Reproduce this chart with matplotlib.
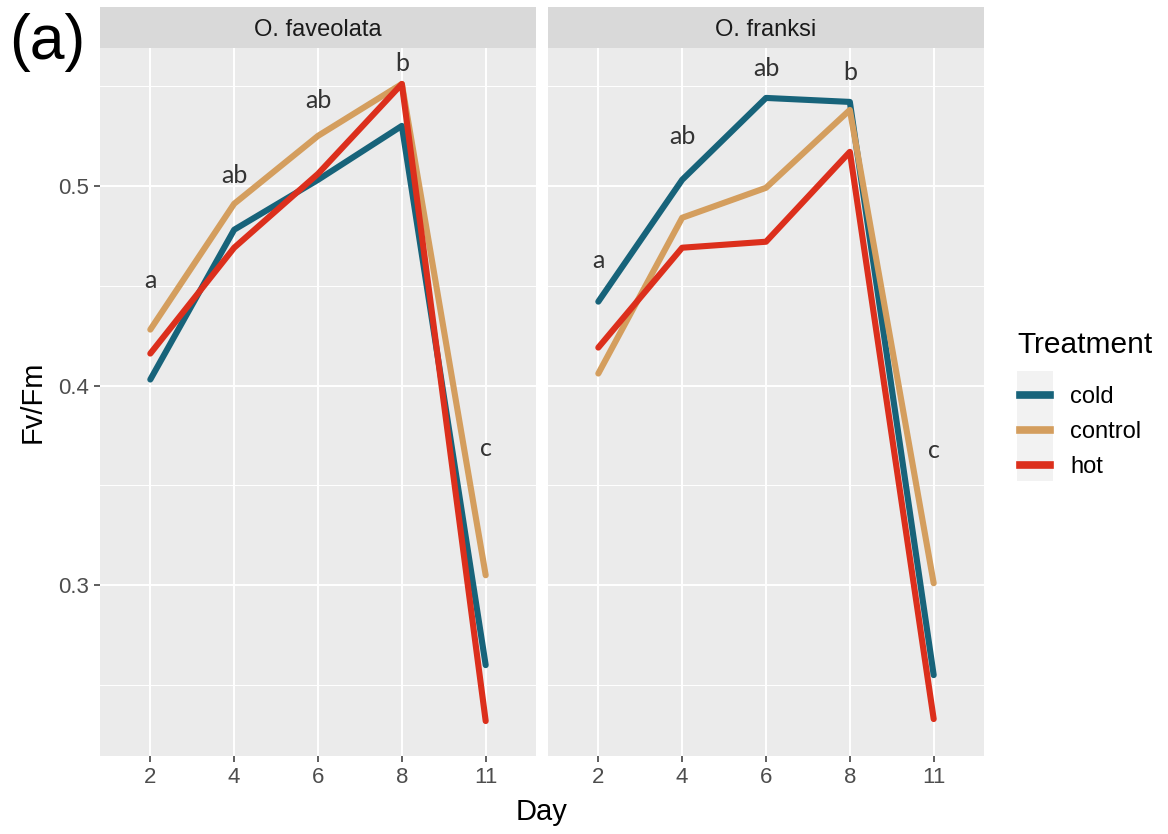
import numpy as np
import matplotlib
matplotlib.use("Agg")
import matplotlib.pyplot as plt
from matplotlib.lines import Line2D
from matplotlib.patches import Rectangle

plt.rcParams['font.family'] = ['Liberation Sans', 'DejaVu Sans']

days = ['2', '4', '6', '8', '11']
treatments = ['cold', 'control', 'hot']
colors = {'cold': '#17637A', 'control': '#D49E5E', 'hot': '#DC2F1C'}
species = ['O. faveolata', 'O. franksi']

# Fv/Fm means
fav_cold = [0.403, 0.478, 0.503, 0.530, 0.260]
fav_control = [0.428, 0.491, 0.525, 0.551, 0.305]
fav_hot = [0.416, 0.469, 0.506, 0.551, 0.232]
fra_cold = [0.442, 0.503, 0.544, 0.542, 0.255]
fra_control = [0.406, 0.484, 0.499, 0.538, 0.301]
fra_hot = [0.419, 0.469, 0.472, 0.517, 0.233]

# significance letters and their heights
fav_letters = ['a', 'ab', 'ab', 'b', 'c']
fav_letter_y = [0.4525, 0.505, 0.5425, 0.561, 0.3685]
fra_letters = ['a', 'ab', 'ab', 'b', 'c']
fra_letter_y = [0.4625, 0.5245, 0.5585, 0.5565, 0.3675]

data = {
    'O. faveolata': {'cold': fav_cold, 'control': fav_control, 'hot': fav_hot},
    'O. franksi': {'cold': fra_cold, 'control': fra_control, 'hot': fra_hot},
}
letters = {'O. faveolata': (fav_letters, fav_letter_y),
           'O. franksi': (fra_letters, fra_letter_y)}

W, H = 1168, 834
fig = plt.figure(figsize=(W / 100, H / 100), dpi=100)

panel_x = [100, 548]
panel_w = 436
top, bottom = 48, 756
strip_top = 7

x = np.arange(len(days))
for i, sp in enumerate(species):
    left = panel_x[i]
    ax = fig.add_axes([left / W, 1 - bottom / H, panel_w / W, (bottom - top) / H])
    ax.set_facecolor('#EBEBEB')
    for s in ax.spines.values():
        s.set_visible(False)
    ax.set_xlim(-0.6, len(days) - 0.4)
    ax.set_ylim(0.2145, 0.569)
    ax.set_yticks([0.3, 0.4, 0.5])
    ax.set_yticks([0.25, 0.35, 0.45, 0.55], minor=True)
    ax.set_xticks(x)
    ax.set_xticklabels(days)
    ax.grid(which='major', color='white', linewidth=1.4)
    ax.grid(which='minor', axis='y', color='white', linewidth=0.7)
    ax.set_axisbelow(True)
    ax.tick_params(axis='both', which='major', length=4, width=1.1, color='#333333',
                   labelcolor='#4D4D4D', labelsize=16, pad=4)
    ax.tick_params(axis='y', which='minor', length=0)
    if i == 0:
        ax.set_yticklabels(['0.3', '0.4', '0.5'])
    else:
        ax.tick_params(axis='y', which='both', length=0, labelleft=False)

    for t in treatments:
        ax.plot(x, data[sp][t], color=colors[t], linewidth=4.4,
                solid_capstyle='round', solid_joinstyle='round')

    labs, ly = letters[sp]
    for xi, (lab, yv) in enumerate(zip(labs, ly)):
        ax.text(xi, yv, lab, ha='center', va='center', fontsize=18,
                color='#333333', family=['Lato', 'DejaVu Sans'])

    sax = fig.add_axes([left / W, 1 - top / H, panel_w / W, (top - strip_top) / H])
    sax.set_facecolor('#D9D9D9')
    sax.set_xticks([])
    sax.set_yticks([])
    for s in sax.spines.values():
        s.set_visible(False)
    sax.text(0.5, 0.45, sp, ha='center', va='center', fontsize=17,
             color='#1A1A1A', transform=sax.transAxes)

fig.text((100 + 984) / 2 / W, 1 - 812 / H, 'Day', ha='center', va='center', fontsize=21)
fig.text(33 / W, 1 - 402 / H, 'Fv/Fm', ha='center', va='center', fontsize=21, rotation=90)
fig.text(47 / W, 1 - 43 / H, '(a)', ha='center', va='center', fontsize=45)

# legend
fig.text(1017 / W, 1 - 345 / H, 'Treatment', ha='left', va='center', fontsize=21.5)
fig.patches.append(Rectangle((1017 / W, 1 - 481 / H), 36 / W, 110 / H,
                             transform=fig.transFigure, facecolor='#F2F2F2',
                             edgecolor='none', zorder=0))
handles = [Line2D([0], [0], color=colors[t], linewidth=5.5) for t in treatments]
leg = fig.legend(handles, treatments, loc='upper left',
                 bbox_to_anchor=(1020 / W, 1 - 386 / H), frameon=False,
                 fontsize=17, handlelength=1.27, borderpad=0,
                 handletextpad=0.85, labelspacing=0.56, borderaxespad=0)

fig.savefig('out.png', dpi=100)
